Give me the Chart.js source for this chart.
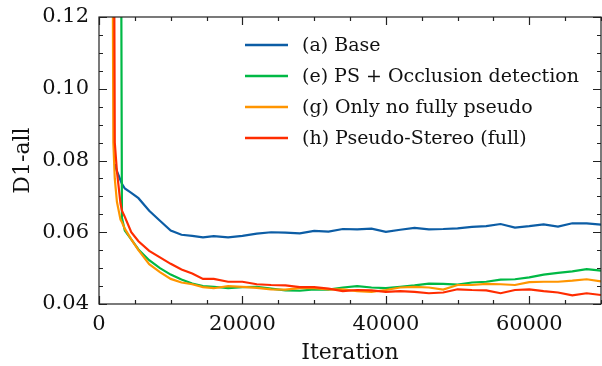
<!DOCTYPE html>
<html lang="en">
<head>
    <meta charset="UTF-8">
    <title>D1-all vs Iteration</title>
    <script src="https://cdn.jsdelivr.net/npm/chart.js"></script>
    <style>
        * { margin: 0; padding: 0; box-sizing: border-box; }
        body { background: #fff; width: 602px; height: 366px; overflow: hidden; }
        .wrap { position: relative; width: 602px; height: 366px; }
    </style>
</head>
<body>
    <div class="wrap">
        <canvas id="d1Chart" width="602" height="366"></canvas>
    </div>

    <script>
        // data
        var iterations = [1800, 2000, 2200, 2500, 3000, 3200, 3600, 4500, 5500, 7000, 8500, 10000, 11500, 13000, 14500, 16000,
            18000, 20000, 22000, 24000, 26000, 28000, 30000, 32000, 34000, 36000, 38000, 40000, 42000, 44000,
            46000, 48000, 50000, 52000, 54000, 56000, 58000, 60000, 62000, 64000, 66000, 68000, 70000];

        var base = [null, null, 0.0790, 0.0770, 0.0745, 0.0735, 0.0722, 0.0710, 0.0695, 0.0660, 0.0632, 0.0605, 0.0593, 0.0590, 0.0586, 0.0589,
            0.0586, 0.0590, 0.0596, 0.0600, 0.0599, 0.0597, 0.0604, 0.0602, 0.0609, 0.0608, 0.0610, 0.0601, 0.0607, 0.0612,
            0.0608, 0.0609, 0.0611, 0.0615, 0.0617, 0.0623, 0.0613, 0.0617, 0.0622, 0.0616, 0.0625, 0.0625, 0.0621];

        var occlusion = [null, null, null, null, 0.2000, 0.0640, 0.0605, 0.0580, 0.0552, 0.0522, 0.0500, 0.0482, 0.0468, 0.0457, 0.0450, 0.0448,
            0.0444, 0.0447, 0.0448, 0.0443, 0.0438, 0.0437, 0.0441, 0.0440, 0.0446, 0.0450, 0.0446, 0.0444, 0.0448, 0.0452,
            0.0457, 0.0456, 0.0454, 0.0460, 0.0462, 0.0468, 0.0469, 0.0474, 0.0482, 0.0487, 0.0491, 0.0497, 0.0493];

        var noFullyPseudo = [0.2000, 0.0850, 0.0750, 0.0685, 0.0635, 0.0628, 0.0610, 0.0580, 0.0550, 0.0511, 0.0489, 0.0470, 0.0460, 0.0455, 0.0447, 0.0444,
            0.0450, 0.0448, 0.0445, 0.0441, 0.0440, 0.0444, 0.0444, 0.0441, 0.0441, 0.0436, 0.0434, 0.0439, 0.0446, 0.0448,
            0.0446, 0.0440, 0.0453, 0.0453, 0.0456, 0.0455, 0.0453, 0.0461, 0.0462, 0.0462, 0.0465, 0.0469, 0.0463];

        var pseudoStereo = [null, 0.2000, 0.0850, 0.0770, 0.0680, 0.0660, 0.0643, 0.0600, 0.0575, 0.0548, 0.0530, 0.0512, 0.0496, 0.0485, 0.0470, 0.0470,
            0.0462, 0.0462, 0.0455, 0.0453, 0.0452, 0.0447, 0.0447, 0.0443, 0.0436, 0.0439, 0.0438, 0.0434, 0.0436, 0.0434,
            0.0430, 0.0432, 0.0441, 0.0439, 0.0438, 0.0430, 0.0439, 0.0441, 0.0436, 0.0432, 0.0424, 0.0430, 0.0425];

        var seriesLabels = ['(a) Base', '(e) PS + Occlusion detection', '(g) Only no fully pseudo', '(h) Pseudo-Stereo (full)'];
        var seriesColors = ['#0C5DA5', '#00B945', '#FF9500', '#FF2C00'];

        var xMajor = [0, 20000, 40000, 60000];
        var yMajor = [0.04, 0.06, 0.08, 0.10, 0.12];

        function toPoints(values) {
            return iterations.map(function (it, i) { return { x: it, y: values[i] }; });
        }

        var FONT = "'DejaVu Serif', serif";

        // frame + inward ticks on all four sides, and the legend inside the plot
        var framePlugin = {
            id: 'frame',
            afterDraw: function (chart) {
                var ctx = chart.ctx;
                var a = chart.chartArea;
                var xs = chart.scales.x, ys = chart.scales.y;
                ctx.save();
                ctx.strokeStyle = '#222';
                ctx.lineWidth = 1.2;
                ctx.strokeRect(a.left, a.top, a.right - a.left, a.bottom - a.top);

                ctx.beginPath();
                xs.ticks.forEach(function (t) {
                    var px = Math.round(xs.getPixelForValue(t.value)) + 0.5;
                    var len = xMajor.indexOf(t.value) >= 0 ? 8 : 4;
                    ctx.moveTo(px, a.bottom); ctx.lineTo(px, a.bottom - len);
                    ctx.moveTo(px, a.top); ctx.lineTo(px, a.top + len);
                });
                ys.ticks.forEach(function (t) {
                    var py = Math.round(ys.getPixelForValue(t.value)) + 0.5;
                    var major = yMajor.some(function (m) { return Math.abs(m - t.value) < 1e-6; });
                    var len = major ? 8 : 4;
                    ctx.moveTo(a.left, py); ctx.lineTo(a.left + len, py);
                    ctx.moveTo(a.right, py); ctx.lineTo(a.right - len, py);
                });
                ctx.stroke();

                // legend
                ctx.font = '19px ' + FONT;
                ctx.textBaseline = 'middle';
                ctx.fillStyle = '#111';
                var lx = 245, ly = 45, gap = 31;
                chart.data.datasets.forEach(function (ds, i) {
                    var y = ly + i * gap;
                    ctx.strokeStyle = ds.borderColor;
                    ctx.lineWidth = 2.5;
                    ctx.beginPath();
                    ctx.moveTo(lx, y); ctx.lineTo(lx + 43, y);
                    ctx.stroke();
                    ctx.fillText(ds.label, lx + 57, y + 1);
                });
                ctx.restore();
            }
        };

        var ctx = document.getElementById('d1Chart').getContext('2d');
        var d1Chart = new Chart(ctx, {
            type: 'line',
            data: {
                datasets: [
                    { label: seriesLabels[0], data: toPoints(base), borderColor: seriesColors[0], order: 4 },
                    { label: seriesLabels[1], data: toPoints(occlusion), borderColor: seriesColors[1], order: 3 },
                    { label: seriesLabels[2], data: toPoints(noFullyPseudo), borderColor: seriesColors[2], order: 2 },
                    { label: seriesLabels[3], data: toPoints(pseudoStereo), borderColor: seriesColors[3], order: 1 }
                ]
            },
            options: {
                responsive: false,
                animation: false,
                spanGaps: false,
                layout: { padding: { top: 17, right: 1, left: 0, bottom: 0 } },
                elements: {
                    point: { radius: 0 },
                    line: { borderWidth: 2.2, tension: 0 }
                },
                plugins: {
                    legend: { display: false },
                    tooltip: { enabled: false }
                },
                scales: {
                    x: {
                        type: 'linear',
                        min: 0,
                        max: 70000,
                        afterFit: function (s) { s.height = 62; s.paddingLeft = 0; s.paddingRight = 0; },
                        grid: { display: false, drawTicks: false },
                        border: { display: false },
                        ticks: {
                            stepSize: 5000,
                            autoSkip: false,
                            maxRotation: 0,
                            padding: 8,
                            color: '#111',
                            font: { family: FONT, size: 21 },
                            callback: function (v) { return xMajor.indexOf(v) >= 0 ? String(v) : ''; }
                        },
                        title: {
                            display: true,
                            text: 'Iteration',
                            color: '#111',
                            font: { family: FONT, size: 22 },
                            padding: { top: 0, bottom: 0 }
                        }
                    },
                    y: {
                        type: 'linear',
                        min: 0.04,
                        max: 0.12,
                        afterFit: function (s) { s.width = 99; s.paddingTop = 0; s.paddingBottom = 0; },
                        grid: { display: false, drawTicks: false },
                        border: { display: false },
                        ticks: {
                            stepSize: 0.005,
                            autoSkip: false,
                            padding: 10,
                            color: '#111',
                            font: { family: FONT, size: 21 },
                            callback: function (v) {
                                var major = yMajor.some(function (m) { return Math.abs(m - v) < 1e-6; });
                                return major ? v.toFixed(2) : '';
                            }
                        },
                        title: {
                            display: true,
                            text: 'D1-all',
                            color: '#111',
                            font: { family: FONT, size: 22 },
                            padding: { top: 10, bottom: 0 }
                        }
                    }
                }
            },
            plugins: [framePlugin]
        });
    </script>
</body>
</html>
